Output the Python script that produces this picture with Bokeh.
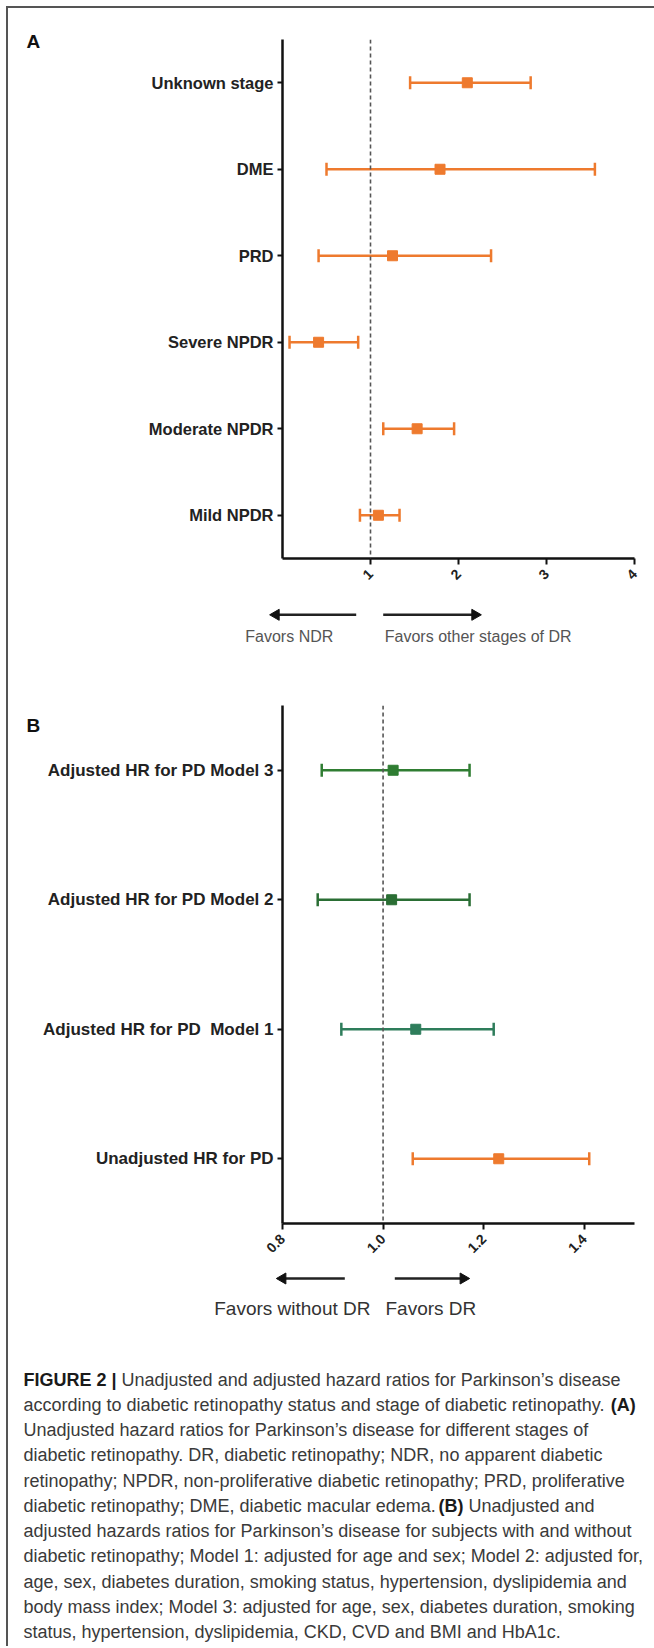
import math
from bokeh.plotting import figure
from bokeh.models import Range1d, FixedTicker, Span, ColumnDataSource
from bokeh.layouts import column
from bokeh.embed import file_html
from bokeh.resources import INLINE
from bokeh.core.properties import value

# ---------------- data ----------------
# Panel A (bottom -> top)
stages = ["Mild NPDR", "Moderate NPDR", "Severe NPDR", "PRD", "DME", "Unknown stage"]
hr_a = [1.09, 1.53, 0.41, 1.25, 1.79, 2.10]
low_a = [0.88, 1.145, 0.08, 0.41, 0.50, 1.45]
high_a = [1.33, 1.95, 0.86, 2.37, 3.55, 2.82]
colors_a = ["#EE7A2E", "#EE7A2E", "#EE7A2E", "#EE7A2E", "#EE7A2E", "#EE7A2E"]
xticks_a = [1, 2, 3, 4]
xlabels_a = ["1", "2", "3", "4"]

# Panel B (bottom -> top)
models = ["Unadjusted HR for PD", "Adjusted HR for PD \u00a0Model 1",
          "Adjusted HR for PD Model 2", "Adjusted HR for PD Model 3"]
hr_b = [1.230, 1.065, 1.017, 1.020]
low_b = [1.059, 0.917, 0.870, 0.878]
high_b = [1.410, 1.220, 1.172, 1.172]
colors_b = ["#EE7A2E", "#2E7D5B", "#2A6E34", "#2F7D32"]
xticks_b = [0.8, 1.0, 1.2, 1.4]
xlabels_b = ["0.8", "1.0", "1.2", "1.4"]

favors_a = ["Favors NDR", "Favors other stages of DR"]
favors_b = ["Favors without DR", "Favors DR"]

caption_lines = [
    [("FIGURE 2 |", True), (" Unadjusted and adjusted hazard ratios for Parkinson\u2019s disease", False)],
    [("according to diabetic retinopathy status and stage of diabetic retinopathy. ", False), ("(A)", True)],
    [("Unadjusted hazard ratios for Parkinson\u2019s disease for different stages of", False)],
    [("diabetic retinopathy. DR, diabetic retinopathy; NDR, no apparent diabetic", False)],
    [("retinopathy; NPDR, non-proliferative diabetic retinopathy; PRD, proliferative", False)],
    [("diabetic retinopathy; DME, diabetic macular edema. ", False), ("(B)", True), (" Unadjusted and", False)],
    [("adjusted hazards ratios for Parkinson\u2019s disease for subjects with and without", False)],
    [("diabetic retinopathy; Model 1: adjusted for age and sex; Model 2: adjusted for,", False)],
    [("age, sex, diabetes duration, smoking status, hypertension, dyslipidemia and", False)],
    [("body mass index; Model 3: adjusted for age, sex, diabetes duration, smoking", False)],
    [("status, hypertension, dyslipidemia, CKD, CVD and BMI and HbA1c.", False)],
]

FONT = "Liberation Sans"
AXIS_COLOR = "#111111"
W = 646

# Helvetica / Arial (Liberation Sans) advance widths, 1/1000 em
_REG = {' ': 278, ',': 278, '.': 278, ';': 278, ':': 278, '-': 333, '(': 333, ')': 333,
        '|': 260, '\u2019': 222, 'a': 556, 'b': 556, 'c': 500, 'd': 556, 'e': 556, 'f': 278,
        'g': 556, 'h': 556, 'i': 222, 'j': 222, 'k': 500, 'l': 222, 'm': 833, 'n': 556,
        'o': 556, 'p': 556, 'q': 556, 'r': 333, 's': 500, 't': 278, 'u': 556, 'v': 500,
        'w': 722, 'x': 500, 'y': 500, 'z': 500}
_BOLD = {' ': 278, '(': 333, ')': 333, '|': 280, 'A': 722, 'B': 722, 'F': 611, 'I': 278,
         'G': 778, 'U': 722, 'R': 722, 'E': 667}


def text_width(s, bold, size):
    tab = _BOLD if bold else _REG
    w = 0
    for ch in s:
        if ch in tab:
            w += tab[ch]
        elif ch.isdigit():
            w += 556
        elif ch.isupper():
            w += 700
        else:
            w += 556
    return w * size / 1000.0


def style_axes(p, xticks, xlabels, ycats, ylab_size):
    p.xgrid.visible = False
    p.ygrid.visible = False
    p.outline_line_color = None
    for ax in (p.xaxis[0], p.yaxis[0]):
        ax.axis_line_width = 2.5
        ax.axis_line_color = AXIS_COLOR
        ax.major_tick_line_color = AXIS_COLOR
        ax.major_tick_line_width = 2
        ax.major_tick_in = 0
        ax.minor_tick_line_color = None
        ax.major_label_text_font = FONT
        ax.major_label_text_font_style = "bold"
        ax.major_label_text_color = "#222222"
    xa = p.xaxis[0]
    xa.ticker = FixedTicker(ticks=xticks)
    xa.major_label_overrides = {t: l for t, l in zip(xticks, xlabels)}
    xa.major_label_orientation = math.pi / 4
    xa.major_label_text_font_size = "14px"
    xa.major_tick_out = 6
    xa.major_label_standoff = 7
    ya = p.yaxis[0]
    ya.ticker = FixedTicker(ticks=list(range(len(ycats))))
    ya.major_label_overrides = {i: c for i, c in enumerate(ycats)}
    ya.major_label_text_font_size = ylab_size
    ya.major_tick_out = 5
    ya.major_label_standoff = 4


def panel_title(p, letter, standoff):
    p.title.text = letter
    p.title.align = "left"
    p.title.offset = -256
    p.title.text_font = FONT
    p.title.text_font_size = "19px"
    p.title.text_font_style = "bold"
    p.title.text_color = "#111111"
    p.title.standoff = standoff


def draw_forest(p, ys, hr, low, high, colors):
    src = ColumnDataSource(dict(y=ys, hr=hr, low=low, high=high, color=colors))
    p.segment(x0="low", x1="high", y0="y", y1="y", line_color="color",
              line_width=2.5, source=src)
    p.scatter(x="low", y="y", marker="dash", angle=math.pi / 2, size=13,
              line_color="color", line_width=2.5, source=src)
    p.scatter(x="high", y="y", marker="dash", angle=math.pi / 2, size=13,
              line_color="color", line_width=2.5, source=src)
    p.scatter(x="hr", y="y", marker="square", size=10, fill_color="color",
              line_color="color", source=src)


def blank(h):
    s = figure(width=W, height=h, x_range=Range1d(0, W), y_range=Range1d(0, h),
               output_backend="svg", toolbar_location=None, x_axis_type=None,
               y_axis_type=None, min_border=0)
    s.frame_align = False
    s.outline_line_color = None
    s.xgrid.visible = False
    s.ygrid.visible = False
    return s


def arrows_strip(h, y_arrow, left_arrow, right_arrow, y_text, texts, text_x, aligns, size, tcolor):
    s = blank(h)
    ya = h - y_arrow
    head = 5.5
    s.segment(x0=[left_arrow[0], right_arrow[0]],
              x1=[left_arrow[1] + head, right_arrow[1] - head],
              y0=[ya, ya], y1=[ya, ya], line_color="#222222", line_width=2.5)
    s.scatter(x=[left_arrow[1] + head], y=[ya], marker="triangle", angle=math.pi / 2,
              size=11, fill_color="#111111", line_color="#111111")
    s.scatter(x=[right_arrow[1] - head], y=[ya], marker="triangle", angle=-math.pi / 2,
              size=11, fill_color="#111111", line_color="#111111")
    for t, x, al in zip(texts, text_x, aligns):
        s.text(x=[x], y=[h - y_text], text=[t], text_font=value(FONT), text_font_size=size,
               text_color=tcolor, text_align=al, text_baseline="middle")
    return s


# ---------------- Panel A ----------------
pA = figure(width=W, height=584, x_range=Range1d(0, 4), y_range=Range1d(-0.5, 5.5),
            output_backend="svg", toolbar_location=None,
            min_border_left=274, min_border_right=19, min_border_top=31, min_border_bottom=34)
style_axes(pA, xticks_a, xlabels_a, stages, "16.5px")
panel_title(pA, "A", -25)
pA.add_layout(Span(location=1, dimension="height", line_color="#555555",
                   line_width=1.6, line_dash="4 3"))
draw_forest(pA, list(range(len(stages))), hr_a, low_a, high_a, colors_a)

sA = arrows_strip(88, 22.3, (347.7, 262.0), (374.7, 472.0), 44.0, favors_a,
                  [280.8, 376.3], ["center", "left"], "16px", "#555555")

# ---------------- Panel B ----------------
pB = figure(width=W, height=584, x_range=Range1d(0.8, 1.5), y_range=Range1d(-0.5, 3.5),
            output_backend="svg", toolbar_location=None,
            min_border_left=274, min_border_right=20, min_border_top=25, min_border_bottom=41)
style_axes(pB, xticks_b, xlabels_b, models, "17px")
panel_title(pB, "B", -61)
pB.add_layout(Span(location=1.0, dimension="height", line_color="#555555",
                   line_width=1.6, line_dash="4 3"))
draw_forest(pB, list(range(len(models))), hr_b, low_b, high_b, colors_b)

sB = arrows_strip(71, 14.0, (336.3, 268.7), (386.3, 460.3), 44.3, favors_b,
                  [362.0, 377.0], ["right", "left"], "19px", "#333333")

# ---------------- Caption ----------------
CAP_H = 311
CAP_SIZE = 18.0
pC = blank(CAP_H)
xs_r, ys_r, ts_r = [], [], []
xs_b, ys_b, ts_b = [], [], []
for i, segs in enumerate(caption_lines):
    x = 15.0
    y = CAP_H - (44.3 + i * 25.23)
    for txt, bold in segs:
        lead = len(txt) - len(txt.lstrip(" "))
        x += text_width(" " * lead, bold, CAP_SIZE)
        body = txt.lstrip(" ")
        if bold:
            xs_b.append(x); ys_b.append(y); ts_b.append(body)
        else:
            xs_r.append(x); ys_r.append(y); ts_r.append(body)
        x += text_width(body, bold, CAP_SIZE)

pC.text(x=xs_r, y=ys_r, text=ts_r, text_font=value(FONT), text_font_size="18px",
        text_color="#3a3a3a", text_baseline="middle", text_align="left")
pC.text(x=xs_b, y=ys_b, text=ts_b, text_font=value(FONT), text_font_size="18px",
        text_font_style="bold", text_color="#1a1a1a", text_baseline="middle",
        text_align="left")

layout = column(pA, sA, pB, sB, pC, margin=(6, 0, 0, 6), spacing=0,
                styles={"border-left": "2px solid #555555", "border-top": "2px solid #555555"})

open("out.html", "w").write(file_html(layout, INLINE))
